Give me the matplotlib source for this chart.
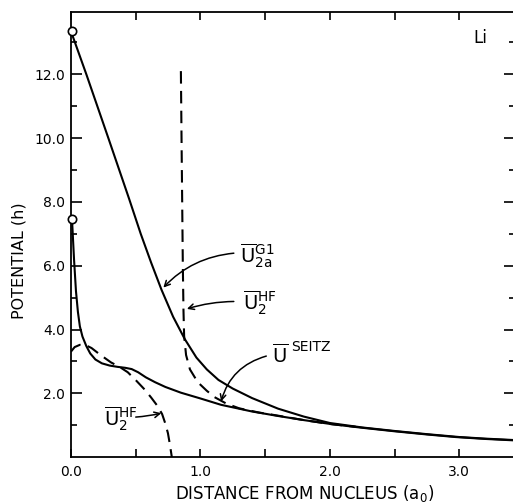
import numpy as np
import matplotlib
matplotlib.use('Agg')
import matplotlib.pyplot as plt
from matplotlib.ticker import MultipleLocator, FixedLocator

plt.rcParams['font.family'] = ['DejaVu Sans']
plt.rcParams['mathtext.fontset'] = 'dejavusans'

# U_2a^G1 (solid, upper)
x_g1 = [0.01, 0.12, 0.29, 0.45, 0.54, 0.62, 0.70, 0.79, 0.88, 0.97, 1.05, 1.14,
        1.25, 1.40, 1.60, 1.80, 2.00, 2.25, 2.50, 2.75, 3.00, 3.20, 3.45]
y_g1 = [13.25, 12.0, 10.0, 8.1, 7.0, 6.1, 5.25, 4.4, 3.7, 3.12, 2.75, 2.42,
        2.15, 1.85, 1.52, 1.27, 1.07, 0.93, 0.82, 0.72, 0.63, 0.58, 0.53]

# U_2^HF (dashed, upper branch)
x_hf_up = [0.85, 0.855, 0.86, 0.865, 0.87, 0.875, 0.89, 0.92, 0.98, 1.05, 1.11,
           1.20, 1.30, 1.45, 1.60, 1.80, 2.00, 2.20]
y_hf_up = [12.1, 10.0, 8.0, 6.0, 4.6, 3.8, 3.2, 2.75, 2.35, 2.08, 1.88,
           1.68, 1.53, 1.40, 1.30, 1.16, 1.04, 0.95]

# U SEITZ (solid, lower)
x_seitz = [0.01, 0.025, 0.04, 0.055, 0.07, 0.09, 0.12, 0.15, 0.19, 0.24, 0.30,
           0.36, 0.42, 0.47, 0.52, 0.58, 0.65, 0.73, 0.85, 1.00, 1.16, 1.40,
           1.60, 1.80, 2.02, 2.25, 2.50, 2.75, 2.97, 3.20, 3.45]
y_seitz = [7.4, 6.2, 5.2, 4.55, 4.1, 3.78, 3.48, 3.25, 3.06, 2.94, 2.87,
           2.83, 2.8, 2.76, 2.66, 2.5, 2.35, 2.2, 2.02, 1.84, 1.64, 1.43,
           1.29, 1.16, 1.03, 0.92, 0.81, 0.71, 0.63, 0.57, 0.52]

# U_2^HF (dashed, inner branch)
x_hf_in = [0.0, 0.03, 0.07, 0.12, 0.16, 0.23, 0.31, 0.38, 0.44, 0.50, 0.57,
           0.62, 0.67, 0.705, 0.73, 0.75, 0.765, 0.78]
y_hf_in = [3.3, 3.45, 3.52, 3.5, 3.42, 3.2, 2.97, 2.82, 2.66, 2.42, 2.12,
           1.87, 1.6, 1.35, 1.05, 0.75, 0.4, 0.0]

fig = plt.figure(figsize=(5.13, 5.04), dpi=100)
ax = fig.add_axes([0.138, 0.093, 0.866, 0.883])

lw = 1.5
ax.plot(x_g1, y_g1, 'k-', lw=lw)
ax.plot(x_seitz, y_seitz, 'k-', lw=lw)
ax.plot(x_hf_up, y_hf_up, 'k--', lw=lw, dashes=(6, 3.5))
ax.plot(x_hf_in, y_hf_in, 'k--', lw=lw, dashes=(6, 3.5))
ax.plot([x_g1[0], x_seitz[0]], [y_g1[0] + 0.12, y_seitz[0] + 0.05], 'o', ms=6,
        mfc='white', mec='k', mew=1.2, ls='none', zorder=5, clip_on=False)

ax.set_xlim(0, 3.43)
ax.set_ylim(0, 13.95)

ax.xaxis.set_major_locator(FixedLocator([0, 1, 2, 3]))
ax.xaxis.set_minor_locator(FixedLocator([0.5, 1.5, 2.5]))
ax.set_xticklabels(['0.0', '1.0', '2.0', '3.0'])
ax.yaxis.set_major_locator(FixedLocator([2, 4, 6, 8, 10, 12]))
ax.yaxis.set_minor_locator(FixedLocator([1, 3, 5, 7, 9, 11, 13]))
ax.set_yticklabels(['2.0', '4.0', '6.0', '8.0', '10.0', '12.0'])

ax.tick_params(axis='x', which='both', direction='in', length=6, width=1.2,
               top=True, labelsize=10, pad=6)
ax.tick_params(axis='y', which='major', direction='in', length=8, width=1.2,
               right=True, labelsize=10, pad=4)
ax.tick_params(axis='y', which='minor', direction='in', length=4.5, width=1.2,
               right=True)
for s in ax.spines.values():
    s.set_linewidth(1.3)

fig.text(0.593, 0.02, 'DISTANCE FROM NUCLEUS (a$_0$)', ha='center',
         va='center', fontsize=12)
fig.text(0.038, 0.482, 'POTENTIAL (h)', ha='center', va='center',
         rotation=90, fontsize=11.5)

ax.text(3.16, 13.15, 'Li', fontsize=12, ha='center', va='center')

arr = dict(arrowstyle='->', lw=1.1, color='k')
ax.text(1.31, 6.3, r'$\overline{\mathrm{U}}_{\mathrm{2a}}^{\mathrm{G1}}$',
        fontsize=14, ha='left', va='center')
ax.annotate('', xy=(0.70, 5.25), xytext=(1.28, 6.4),
            arrowprops=dict(connectionstyle='arc3,rad=0.2', **arr))

ax.text(1.33, 4.85, r'$\overline{\mathrm{U}}_{\mathrm{2}}^{\mathrm{HF}}$',
        fontsize=14, ha='left', va='center')
ax.annotate('', xy=(0.876, 4.62), xytext=(1.28, 4.88),
            arrowprops=dict(connectionstyle='arc3,rad=0.08', **arr))

ax.text(1.55, 3.2, r'$\overline{\mathrm{U}}$', fontsize=14,
        ha='left', va='center')
ax.text(1.70, 3.45, 'SEITZ', fontsize=10, ha='left', va='center')
ax.annotate('', xy=(1.155, 1.66), xytext=(1.53, 3.19),
            arrowprops=dict(connectionstyle='arc3,rad=0.3', **arr))

ax.text(0.26, 1.2, r'$\overline{\mathrm{U}}_{\mathrm{2}}^{\mathrm{HF}}$',
        fontsize=14, ha='left', va='center')
ax.annotate('', xy=(0.72, 1.4), xytext=(0.48, 1.25),
            arrowprops=dict(connectionstyle='arc3,rad=0.05', **arr))

fig.savefig('out.png', dpi=100)
